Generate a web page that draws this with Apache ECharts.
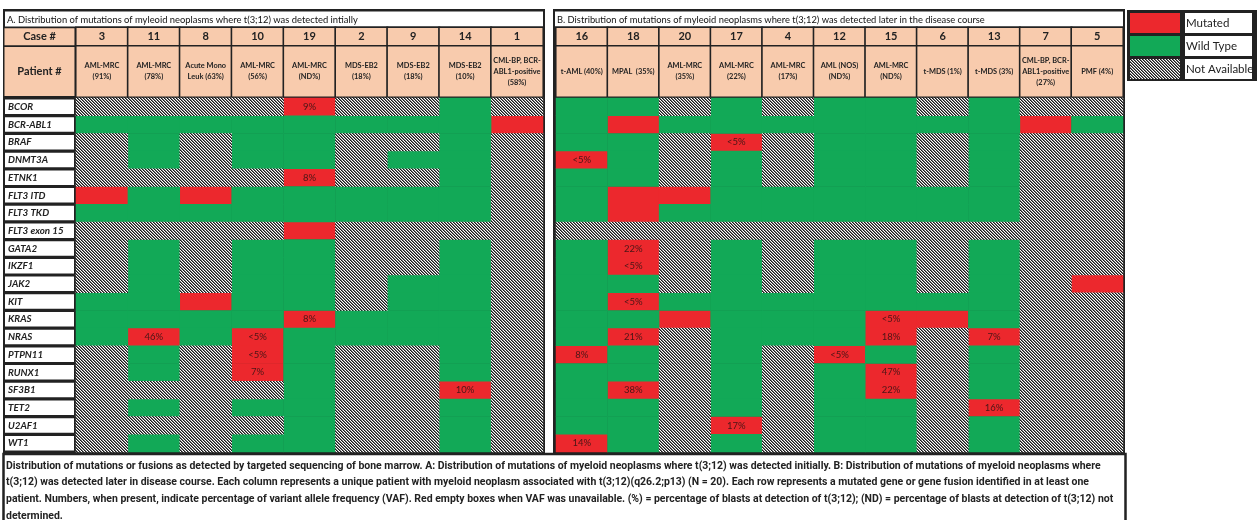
<!DOCTYPE html>
<html><head><meta charset="utf-8">
<script src="https://cdn.jsdelivr.net/npm/echarts@6/dist/echarts.min.js"></script>
<style>html,body{margin:0;padding:0;background:#fff}#c{width:1258px;height:520px}</style>
</head><body><div id="c"></div>
<script>
// ---------------- DATA ----------------
const genes = ['BCOR','BCR-ABL1','BRAF','DNMT3A','ETNK1','FLT3 ITD','FLT3 TKD','FLT3 exon 15','GATA2','IKZF1','JAK2','KIT','KRAS','NRAS','PTPN11','RUNX1','SF3B1','TET2','U2AF1','WT1'];

const casesA = ['3','11','8','10','19','2','9','14','1'];
const diagnosesA = ['AML-MRC\n(91%)','AML-MRC\n(78%)','Acute Mono\nLeuk (63%)','AML-MRC\n(56%)','AML-MRC\n(ND%)','MDS-EB2\n(18%)','MDS-EB2\n(18%)','MDS-EB2\n(10%)','CML-BP, BCR-\nABL1-positive\n(58%)'];
// M = mutated, W = wild type, N = not available ; one string per gene, one letter per case
const statusA = [
  'NNNNMNNWN','WWWWWWWWM','NWNWWNNWN','NWNWWNWWN','NNNNMNNWN',
  'MWMWWWWWN','WWWWWWWWN','NNNNMNNNN','NWNWWNNWN','NWNWWNNWN',
  'NWNWWNWWN','WWMWWNWWN','WWWWMWWWN','WMWMWWWWN','NWNMWNNWN',
  'NWNMWNNWN','NNNNWNNMN','NWNWWNNWN','NNNNWNNWN','NWNWWNNWN'
];
const vafA = [['BCOR','19','9%'],['ETNK1','19','8%'],['KRAS','19','8%'],['NRAS','11','46%'],['NRAS','10','<5%'],['PTPN11','10','<5%'],['RUNX1','10','7%'],['SF3B1','14','10%']];

const casesB = ['16','18','20','17','4','12','15','6','13','7','5'];
const diagnosesB = ['t-AML (40%)','MPAL  (35%)','AML-MRC\n(35%)','AML-MRC\n(22%)','AML-MRC\n(17%)','AML (NOS)\n(ND%)','AML-MRC\n(ND%)','t-MDS (1%)','t-MDS (3%)','CML-BP, BCR-\nABL1-positive\n(27%)','PMF (4%)'];
const statusB = [
  'WWNWNWWNWNN','WMWWWWWWWMW','WWNMNWWNWNN','MWNWNWWNWNN','WWNWNWWNWNN',
  'WMMWWWWWWNN','WMWWWWWWWNN','NNNNNNNNNNN','WMNWNWWNWNN','WMNWNWWNWNN',
  'WWNWNWWNWNM','WMWWWWWWWNN','WWMWWWMMWNN','WMNWWWMNMNN','MWNWNMWNWNN',
  'WWNWNWMNWNN','WMNWNWMNWNN','WWNWNWWNMNN','WWNMNWWNWNN','MWNWNWWNWNN'
];
const vafB = [['BRAF','17','<5%'],['DNMT3A','16','<5%'],['GATA2','18','22%'],['IKZF1','18','<5%'],['KIT','18','<5%'],['KRAS','15','<5%'],['NRAS','18','21%'],['NRAS','15','18%'],['NRAS','13','7%'],['PTPN11','16','8%'],['PTPN11','12','<5%'],['RUNX1','15','47%'],['SF3B1','18','38%'],['SF3B1','15','22%'],['TET2','13','16%'],['U2AF1','17','17%'],['WT1','16','14%']];

const statusCodes = ['M','W','N'];
const legendNames = ['Mutated','Wild Type','Not Available'];
const titleA = 'A. Distribution of mutations of myleoid neoplasms where t(3;12) was detected intially';
const titleB = 'B. Distribution of mutations of myleoid neoplasms where t(3;12) was detected later in the disease course';
const captionLines = [
  'Distribution of mutations or fusions as detected by targeted sequencing of bone marrow. A: Distribution of mutations of myeloid neoplasms where t(3;12) was detected initially. B: Distribution of mutations of myeloid neoplasms where',
  't(3;12) was detected later in disease course. Each column represents a unique patient with myeloid neoplasm associated with t(3;12)(q26.2;p13) (N = 20). Each row represents a mutated gene or gene fusion identified in at least one',
  'patient. Numbers, when present, indicate percentage of variant allele frequency (VAF). Red empty boxes when VAF was unavailable. (%) = percentage of blasts at detection of t(3;12); (ND) = percentage of blasts at detection of t(3;12) not',
  'determined.'
];

// ---------------- STYLE ----------------
const RED = '#EC282D', GREEN = '#12A957', TAN = '#F8CBAD', DARK = '#222222';
const FONT = 'Lato, "Open Sans", sans-serif';
const CAPFONT = 'Roboto, "Liberation Sans", Arial, sans-serif';

function hatchCanvas() {
  const c = document.createElement('canvas'); c.width = 6; c.height = 6;
  const ctx = c.getContext('2d'); const img = ctx.createImageData(6, 6);
  for (let y = 0; y < 6; y++) for (let x = 0; x < 6; x++) {
    const k = ((x - y) % 3 + 3) % 3; const v = k === 0 ? 25 : (k === 1 ? 120 : 255);
    const i = (y * 6 + x) * 4; img.data[i] = v; img.data[i+1] = v; img.data[i+2] = v; img.data[i+3] = 255;
  }
  ctx.putImageData(img, 0, 0); return c;
}
const HATCH = { image: hatchCanvas(), repeat: 'repeat' };
const fills = [RED, GREEN, HATCH];

const mctx = document.createElement('canvas').getContext('2d');
function fitSize(text, weight, family, target) {
  mctx.font = weight + ' 20px ' + family;
  return 20 * target / mctx.measureText(text).width;
}

function panelSeries(statusRows, cases, vafs, axisIdx) {
  return statusCodes.map((code, k) => {
    const data = [];
    statusRows.forEach((row, gi) => {
      for (let ci = 0; ci < cases.length; ci++) {
        if (row[ci] === code) {
          const v = vafs.find(t => t[0] === genes[gi] && t[1] === cases[ci]);
          data.push({ value: [ci, gi, k], name: v ? v[2] : '' });
        }
      }
    });
    return {
      type: 'heatmap', name: legendNames[k], xAxisIndex: axisIdx, yAxisIndex: axisIdx, data,
      itemStyle: { color: fills[k] },
      label: { show: code === 'M', formatter: p => p.data.name, color: '#4a1616', fontSize: 9.5, fontFamily: FONT },
      emphasis: { disabled: true }, animation: false
    };
  });
}
function headerSeries(labels, axisIdx, fontSize, lh) {
  return {
    type: 'heatmap', xAxisIndex: axisIdx, yAxisIndex: axisIdx,
    data: labels.map((t, i) => ({ value: [i, 0, 0], name: t })),
    itemStyle: { color: TAN, borderColor: DARK, borderWidth: 1.6 },
    label: { show: true, formatter: p => p.data.name, color: '#222', fontWeight: 'bold', fontSize, lineHeight: lh, fontFamily: FONT },
    emphasis: { disabled: true }, animation: false
  };
}

const grids = [
  { left: 76, top: 27.5, width: 467, height: 18.5 },
  { left: 76, top: 46, width: 467, height: 51 },
  { left: 76, top: 98, width: 467, height: 354 },
  { left: 556, top: 27.5, width: 567, height: 18.5 },
  { left: 556, top: 46, width: 567, height: 51 },
  { left: 556, top: 98, width: 567, height: 354 }
];
const xAxes = grids.map((g, i) => ({ type: 'category', gridIndex: i, data: i < 3 ? casesA : casesB, show: false }));
function headLabel(h) {
  return { show: true, margin: 71.5, align: 'left', formatter: v => '{c|' + v + '}',
    rich: { c: { width: 70, height: h, align: 'center', backgroundColor: TAN, fontWeight: 'bold', fontSize: 11, color: '#222', fontFamily: FONT } } };
}
const yAxes = [
  { type: 'category', gridIndex: 0, data: ['Case #'], axisLine: { show: false }, axisTick: { show: false }, axisLabel: headLabel(17) },
  { type: 'category', gridIndex: 1, data: ['Patient #'], axisLine: { show: false }, axisTick: { show: false }, axisLabel: headLabel(49) },
  { type: 'category', gridIndex: 2, data: genes, inverse: true, axisLine: { show: false }, axisTick: { show: false },
    axisLabel: { margin: 71, align: 'left', formatter: v => '{g|' + v + '}',
      rich: { g: { width: 66, height: 14.5, padding: [0, 0, 0, 3], backgroundColor: '#fff', fontStyle: 'italic', fontWeight: 'bold', fontSize: 9.8, color: '#222', fontFamily: FONT } } } },
  { type: 'category', gridIndex: 3, data: ['Case #'], show: false },
  { type: 'category', gridIndex: 4, data: ['Patient #'], show: false },
  { type: 'category', gridIndex: 5, data: genes, inverse: true, show: false }
];

const series = [
  headerSeries(casesA, 0, 11, 13), headerSeries(diagnosesA, 1, 7.4, 11),
  ...panelSeries(statusA, casesA, vafA, 2),
  headerSeries(casesB, 3, 11, 13), headerSeries(diagnosesB, 4, 7.4, 11),
  ...panelSeries(statusB, casesB, vafB, 5)
];

const tA = fitSize(titleA, 'normal', FONT, 351);
const tB = fitSize(titleB, 'normal', FONT, 428);
const capSize = Math.min(
  fitSize(captionLines[0], 'bold', CAPFONT, 1106),
  fitSize(captionLines[1], 'bold', CAPFONT, 1094),
  fitSize(captionLines[2], 'bold', CAPFONT, 1107)
);

const graphic = [
  { type: 'rect', z: -10, shape: { x: 3, y: 9, width: 542, height: 446 }, style: { fill: DARK } },
  { type: 'rect', z: -9, shape: { x: 5, y: 11.5, width: 538, height: 15 }, style: { fill: '#fff' } },
  { type: 'rect', z: -10, shape: { x: 553, y: 9, width: 572, height: 446 }, style: { fill: DARK } },
  { type: 'rect', z: -9, shape: { x: 555, y: 11.5, width: 568, height: 15 }, style: { fill: '#fff' } },
  { type: 'rect', z: -10, shape: { x: 1127, y: 10, width: 130, height: 71 }, style: { fill: DARK } },
  { type: 'rect', z: -9, shape: { x: 3.5, y: 454, width: 1122, height: 70 }, style: { fill: '#fff', stroke: DARK, lineWidth: 2.5 } },
  { type: 'text', z: 10, x: 7, y: 19.5, style: { text: titleA, font: 'normal ' + tA.toFixed(2) + 'px ' + FONT, fill: '#111', verticalAlign: 'middle' } },
  { type: 'text', z: 10, x: 557, y: 19.5, style: { text: titleB, font: 'normal ' + tB.toFixed(2) + 'px ' + FONT, fill: '#111', verticalAlign: 'middle' } }
].concat(captionLines.map((t, i) => ({
  type: 'text', z: 10, x: 6, y: 466 + i * 16.7,
  style: { text: t, font: 'bold ' + capSize.toFixed(2) + 'px ' + CAPFONT, fill: '#222', verticalAlign: 'middle' }
})));

const chart = echarts.init(document.getElementById('c'), null, { renderer: 'canvas' });
chart.setOption({
  animation: false,
  grid: grids,
  xAxis: xAxes,
  yAxis: yAxes,
  legend: {
    data: legendNames, selectedMode: false, orient: 'vertical', left: 1130, top: 13, padding: 0,
    itemWidth: 50, itemHeight: 20, itemGap: 3, icon: 'rect',
    textStyle: { fontFamily: FONT, fontSize: 11.5, color: '#222', backgroundColor: '#fff', width: 66, height: 20, lineHeight: 20, padding: [0, 0, 0, 1] }
  },
  graphic,
  series
});
</script>
</body></html>
